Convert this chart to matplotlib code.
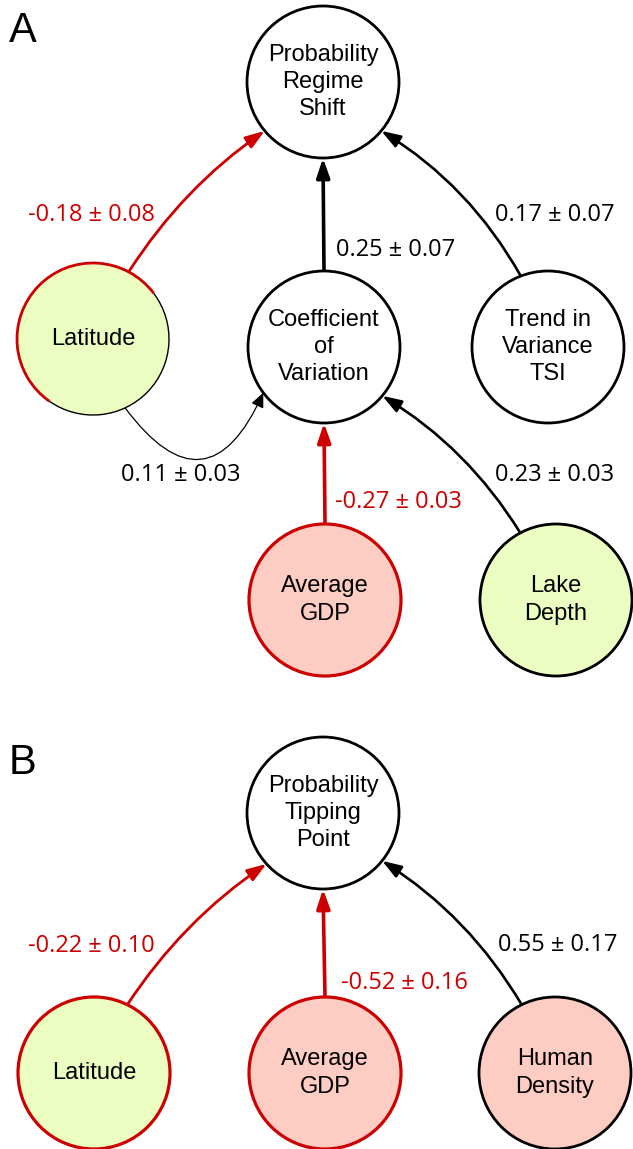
import matplotlib
matplotlib.use("Agg")
import numpy as np
import matplotlib.pyplot as plt
from matplotlib.patches import Circle, Arc, FancyArrowPatch

# colours
RED = '#cc0000'
GREEN = '#ebfdc0'
PINK = '#fdccc2'

# nodes (pixel layout, y down)
node_names = ['prs', 'lat_a', 'cov', 'tsi', 'gdp_a', 'depth',
              'ptp', 'lat_b', 'gdp_b', 'human']
node_labels = ['Probability\nRegime\nShift', 'Latitude', 'Coefficient\nof\nVariation',
               'Trend in\nVariance\nTSI', 'Average\nGDP', 'Lake\nDepth',
               'Probability\nTipping\nPoint', 'Latitude', 'Average\nGDP', 'Human\nDensity']
node_x = [323, 93, 324, 548, 325, 556, 323, 94, 325, 555]
node_y = [82, 339, 347, 347, 600, 600, 813, 1073, 1073, 1073]
node_fill = ['white', GREEN, 'white', 'white', PINK, GREEN, 'white', GREEN, PINK, PINK]
node_edge = ['black', 'split', 'black', 'black', RED, 'black', 'black', RED, RED, 'black']
R = 76

# path coefficients (source, target, estimate, se)
edge_src = ['lat_a', 'cov', 'tsi', 'lat_a', 'gdp_a', 'depth', 'lat_b', 'gdp_b', 'human']
edge_dst = ['prs', 'prs', 'prs', 'cov', 'cov', 'cov', 'ptp', 'ptp', 'ptp']
edge_est = ['-0.18', '0.25', '0.17', '0.11', '-0.27', '0.23', '-0.22', '-0.52', '0.55']
edge_se = ['0.08', '0.07', '0.07', '0.03', '0.03', '0.03', '0.10', '0.16', '0.17']

# drawing style for each edge: exit angle, entry angle, curvature, width, label pos
edge_a0 = [62, 90, 111, -65, 90, 118, 64, 90, 116]
edge_a1 = [220, 270, -40, 217, 270, -40, 222, 270, -39]
edge_rad = [-0.1, 0, 0.13, 0.85, 0, 0.12, -0.1, 0, 0.12]
edge_lw = [2.0, 2.6, 1.9, 0.9, 2.6, 1.9, 2.0, 2.6, 1.9]
label_x = [91, 396, 555, 181, 398, 555, 91, 404, 558]
label_y = [215, 250, 215, 475, 502, 475, 946, 983, 945]

W, H = 633, 1149
fig = plt.figure(figsize=(W / 100, H / 100), dpi=100)
ax = fig.add_axes([0, 0, 1, 1])
ax.set_xlim(0, W)
ax.set_ylim(H, 0)
ax.axis('off')

pos = {n: (x, y) for n, x, y in zip(node_names, node_x, node_y)}

for n, lab, x, y, fc, ec in zip(node_names, node_labels, node_x, node_y, node_fill, node_edge):
    if ec == 'split':
        ax.add_patch(Circle((x, y), R, facecolor=fc, edgecolor='none', zorder=2))
        # inverted y axis flips angles, so give them negated
        ax.add_patch(Arc((x, y), 2 * R, 2 * R, theta1=-235, theta2=-37,
                         color=RED, lw=2.0, zorder=3))
        ax.add_patch(Arc((x, y), 2 * R, 2 * R, theta1=-37, theta2=125,
                         color='black', lw=1.0, zorder=3))
    else:
        lw = 2.3 if ec == RED else 2.0
        ax.add_patch(Circle((x, y), R, facecolor=fc, edgecolor=ec, lw=lw, zorder=2))
    ax.text(x, y, lab, ha='center', va='center', fontsize=17,
            family='Liberation Sans', linespacing=1.32, zorder=4)


def on_circle(name, ang):
    cx, cy = pos[name]
    a = np.deg2rad(ang)
    return cx + R * np.cos(a), cy - R * np.sin(a)


for s, d, est, se, a0, a1, rad, lw, lx, ly in zip(edge_src, edge_dst, edge_est, edge_se,
                                                   edge_a0, edge_a1, edge_rad, edge_lw,
                                                   label_x, label_y):
    col = RED if est.startswith('-') else 'black'
    p0 = on_circle(s, a0)
    p1 = on_circle(d, a1)
    hl = 1.05 if lw > 1 else 0.8
    ar = FancyArrowPatch(p0, p1, connectionstyle=f'arc3,rad={rad}',
                         arrowstyle=f'-|>,head_length={hl},head_width=0.36',
                         mutation_scale=11, lw=lw, color=col,
                         shrinkA=0, shrinkB=0, zorder=1)
    ax.add_patch(ar)
    ax.text(lx, ly, f'{est} \u00b1 {se}', ha='center', va='center', color=col,
            fontsize=17, family='Open Sans', zorder=4)

ax.text(23, 31, 'A', ha='center', va='center', fontsize=30, family='Liberation Sans')
ax.text(23, 763, 'B', ha='center', va='center', fontsize=30, family='Liberation Sans')

fig.savefig('out.png', dpi=100)
